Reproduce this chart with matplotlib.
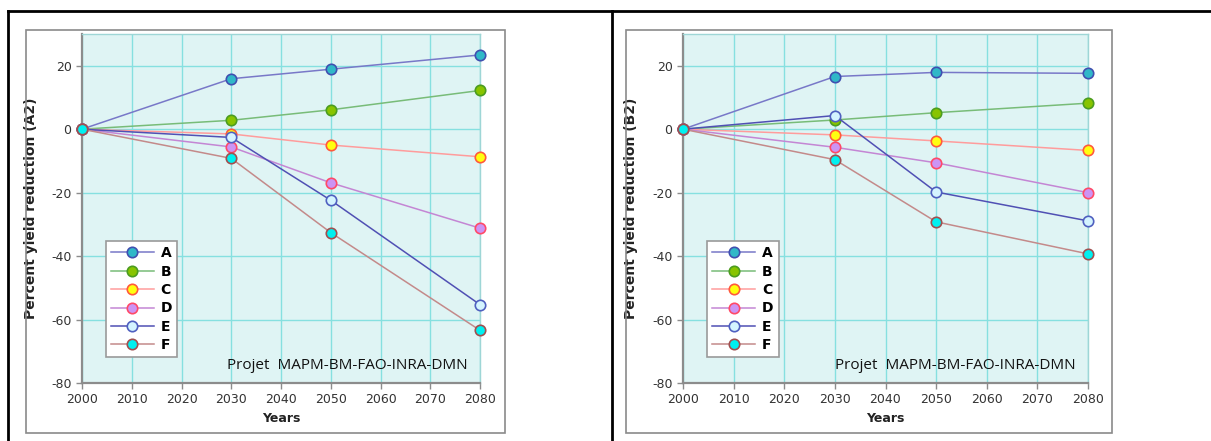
import matplotlib.pyplot as plt
from matplotlib.lines import Line2D

plt.rcParams['axes.unicode_minus'] = False

years = [2000, 2030, 2050, 2080]
series = ['A', 'B', 'C', 'D', 'E', 'F']

# percent yield reduction per scenario, A2 and B2
a2 = {
    'A': [0, 15.9, 18.9, 23.4],
    'B': [0, 2.8, 6.1, 12.2],
    'C': [0, -1.5, -5.0, -8.7],
    'D': [0, -5.6, -16.9, -31.2],
    'E': [0, -2.6, -22.4, -55.3],
    'F': [0, -9.2, -32.6, -63.4],
}
b2 = {
    'A': [0, 16.6, 17.9, 17.6],
    'B': [0, 2.9, 5.2, 8.2],
    'C': [0, -1.8, -3.7, -6.7],
    'D': [0, -5.7, -10.6, -20.0],
    'E': [0, 4.3, -19.8, -28.9],
    'F': [0, -9.6, -29.2, -39.3],
}

# line colour, marker face, marker edge
styles = {
    'A': ('#7878c8', '#30b8c8', '#4050b0'),
    'B': ('#78bc78', '#88c400', '#4c9c20'),
    'C': ('#ff9c9c', '#ffff10', '#ff5a3c'),
    'D': ('#c486d4', '#cc94f4', '#ff4a68'),
    'E': ('#5050b4', '#d4f4ff', '#5060c0'),
    'F': ('#c48a8a', '#00f0f0', '#a05050'),
}

W, H = 1211, 441
fig = plt.figure(figsize=(W / 100, H / 100), dpi=100)


def px_rect(x0, y0, x1, y1):
    return [x0 / W, 1 - y1 / H, (x1 - x0) / W, (y1 - y0) / H]


# outer table borders
fig.add_artist(Line2D([8 / W, 1], [1 - 11 / H] * 2, color='black', lw=2))
fig.add_artist(Line2D([8 / W] * 2, [0, 1 - 11 / H], color='black', lw=2))
fig.add_artist(Line2D([612 / W] * 2, [0, 1 - 11 / H], color='black', lw=2))

# grey frames around each chart
for x0, x1 in [(26, 505), (626, 1112)]:
    r = plt.Rectangle((x0 / W, 1 - 433 / H), (x1 - x0) / W, (433 - 30) / H,
                      transform=fig.transFigure, fill=False, ec='#8a8a8a', lw=1.2)
    fig.add_artist(r)


def draw(rect, data, label):
    ax = fig.add_axes(px_rect(*rect))
    ax.set_facecolor('#dff4f4')
    for name in series:
        lc, fc, ec = styles[name]
        ax.plot(years, data[name], color=lc, lw=1.1, marker='o', ms=7.5,
                mfc=fc, mec=ec, mew=1.2, label=name, zorder=3, clip_on=False)
    ax.set_xlim(2000, 2080)
    ax.set_ylim(-80, 30)
    ax.set_xticks(range(2000, 2081, 10))
    ax.set_yticks(range(-80, 21, 20))
    ax.grid(True, color='#86e0e0', lw=1)
    ax.set_axisbelow(True)
    for s in ['top', 'right']:
        ax.spines[s].set_color('#9ed6d6')
        ax.spines[s].set_linewidth(1)
    for s in ['left', 'bottom']:
        ax.spines[s].set_color('#8c8c8c')
        ax.spines[s].set_linewidth(1.6)
    ax.tick_params(labelsize=9, colors='#8c8c8c', labelcolor='#333333', length=4, width=1)
    ax.set_xlabel('Years', fontsize=9, fontweight='bold', color='#222222', labelpad=4)
    ax.set_ylabel(label, fontsize=10, fontweight='bold', color='#222222')
    ax.yaxis.set_label_coords(-0.11, 0.5)
    ax.text(0.97, 0.03, 'Projet  MAPM-BM-FAO-INRA-DMN', transform=ax.transAxes,
            ha='right', va='bottom', fontsize=11, family='Open Sans', color='#111111')
    leg = ax.legend(loc='lower left', bbox_to_anchor=(0.06, 0.074), borderaxespad=0,
                    prop={'weight': 'bold', 'size': 10}, handlelength=3.1,
                    handletextpad=0.5, labelspacing=0.32, borderpad=0.35,
                    fancybox=False, framealpha=1, edgecolor='#9a9a9a')
    leg.get_frame().set_linewidth(1.2)
    return ax


draw((82, 34, 480, 383), a2, 'Percent yield reduction (A2)')
draw((683, 34, 1088, 383), b2, 'Percent yield reduction (B2)')

fig.savefig('out.png', dpi=100)
